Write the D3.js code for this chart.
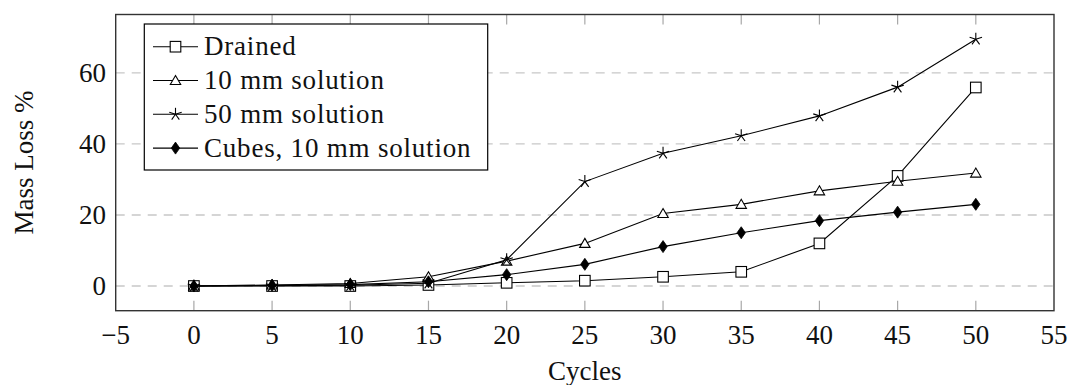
<!DOCTYPE html>
<html>
<head>
<meta charset="utf-8">
<script src="https://cdn.jsdelivr.net/npm/d3@7/dist/d3.min.js"></script>
<style>
  html, body { margin: 0; padding: 0; background: #fff; }
  svg { display: block; }
  text { font-family: "Liberation Serif", "DejaVu Serif", serif; fill: #111; }
</style>
</head>
<body>
<svg id="chart" width="1072" height="385"></svg>
<script>
// Freeze-thaw mass loss measurements
const cycles = [0, 5, 10, 15, 20, 25, 30, 35, 40, 45, 50];
const drained      = [0, 0, 0, 0.3, 0.9, 1.5, 2.6, 4.0, 12.0, 31.0, 55.9];
const solution10mm = [0, 0.3, 0.7, 2.6, 7.0, 12.0, 20.4, 23.0, 26.8, 29.5, 31.8];
const solution50mm = [0, 0.1, 0.2, 0.8, 7.4, 29.4, 37.4, 42.3, 47.9, 56.0, 69.5];
const cubes10mm    = [0, 0.2, 0.4, 1.2, 3.2, 6.1, 11.1, 15.0, 18.4, 20.8, 23.0];

const seriesNames = ["Drained", "10 mm solution", "50 mm solution", "Cubes, 10 mm solution"];
const seriesMarks = ["square", "triangle", "star", "diamond"];
const seriesValues = [drained, solution10mm, solution50mm, cubes10mm];

const xTicks = [-5, 0, 5, 10, 15, 20, 25, 30, 35, 40, 45, 50, 55];
const yTicks = [0, 20, 40, 60];
const xLabel = "Cycles";
const yLabel = "Mass Loss %";

const svg = d3.select("#chart");
const plotLeft = 115.7, plotRight = 1054, plotTop = 14.5, plotBottom = 310.7;

// 10% margin around the data range on the y axis
const yMin = 0, yMax = d3.max(solution50mm);
const yPad = (yMax - yMin) * 0.1;
const x = d3.scaleLinear().domain([-5, 55]).range([plotLeft, plotRight]);
const y = d3.scaleLinear().domain([yMin - yPad, yMax + yPad]).range([plotBottom, plotTop]);

const fontSize = 27;

// horizontal dashed grid
svg.append("g").selectAll("line").data(yTicks).join("line")
  .attr("x1", plotLeft).attr("x2", plotRight)
  .attr("y1", d => y(d)).attr("y2", d => y(d))
  .attr("stroke", "#c8c8c8").attr("stroke-width", 1.3)
  .attr("stroke-dasharray", "9,7");

// tick marks (inside, bottom and top)
const tickLen = 10;
const tg = svg.append("g").attr("stroke", "#a8a8a8").attr("stroke-width", 1.2);
tg.selectAll("line.b").data(xTicks.slice(1, -1)).join("line").attr("class", "b")
  .attr("x1", d => x(d)).attr("x2", d => x(d))
  .attr("y1", plotBottom).attr("y2", plotBottom - tickLen);
tg.selectAll("line.t").data(xTicks.slice(1, -1)).join("line").attr("class", "t")
  .attr("x1", d => x(d)).attr("x2", d => x(d))
  .attr("y1", plotTop).attr("y2", plotTop + tickLen);

// frame
svg.append("rect")
  .attr("x", plotLeft).attr("y", plotTop)
  .attr("width", plotRight - plotLeft).attr("height", plotBottom - plotTop)
  .attr("fill", "none").attr("stroke", "#333").attr("stroke-width", 1.4);

// tick labels
const fmt = d => d < 0 ? "\u2212" + Math.abs(d) : String(d);
svg.append("g").selectAll("text").data(xTicks).join("text")
  .attr("x", d => x(d)).attr("y", 344)
  .attr("text-anchor", "middle").attr("font-size", fontSize)
  .text(fmt);
svg.append("g").selectAll("text").data(yTicks).join("text")
  .attr("x", 106).attr("y", d => y(d) + 9)
  .attr("text-anchor", "end").attr("font-size", fontSize)
  .text(fmt);

// axis titles
svg.append("text")
  .attr("x", (plotLeft + plotRight) / 2).attr("y", 380)
  .attr("text-anchor", "middle").attr("font-size", fontSize)
  .text(xLabel);
svg.append("text")
  .attr("transform", `translate(33,${(plotTop + plotBottom) / 2}) rotate(-90)`)
  .attr("text-anchor", "middle").attr("font-size", fontSize)
  .text(yLabel);

// marker shapes
function drawMark(g, kind, cx, cy) {
  if (kind === "square") {
    g.append("rect").attr("x", cx - 5.3).attr("y", cy - 5.3)
      .attr("width", 10.6).attr("height", 10.6)
      .attr("fill", "#fff").attr("stroke", "#000").attr("stroke-width", 1.1);
  } else if (kind === "triangle") {
    const r = 6;
    const pts = [0, 1, 2].map(i => {
      const a = -Math.PI / 2 + i * 2 * Math.PI / 3;
      return [cx + r * Math.cos(a), cy + 1 + r * Math.sin(a)];
    });
    g.append("polygon").attr("points", pts.map(p => p.join(",")).join(" "))
      .attr("fill", "#fff").attr("stroke", "#000").attr("stroke-width", 1.1);
  } else if (kind === "star") {
    const r = 6.5;
    for (let i = 0; i < 5; i++) {
      const a = -Math.PI / 2 + i * 2 * Math.PI / 5;
      g.append("line").attr("x1", cx).attr("y1", cy)
        .attr("x2", cx + r * Math.cos(a)).attr("y2", cy + r * Math.sin(a))
        .attr("stroke", "#000").attr("stroke-width", 1.1);
    }
  } else if (kind === "diamond") {
    g.append("polygon")
      .attr("points", `${cx},${cy - 6} ${cx + 4.2},${cy} ${cx},${cy + 6} ${cx - 4.2},${cy}`)
      .attr("fill", "#000").attr("stroke", "#000").attr("stroke-width", 0.8);
  }
}

// series lines and markers
const line = d3.line().x(d => x(d[0])).y(d => y(d[1]));
seriesValues.forEach((vals, si) => {
  const pts = cycles.map((c, i) => [c, vals[i]]);
  const g = svg.append("g");
  g.append("path").attr("d", line(pts))
    .attr("fill", "none").attr("stroke", "#000").attr("stroke-width", 1.1);
  pts.forEach(p => drawMark(g, seriesMarks[si], x(p[0]), y(p[1])));
});

// legend
const lg = svg.append("g");
lg.append("rect").attr("x", 144.3).attr("y", 24)
  .attr("width", 343.4).attr("height", 146)
  .attr("fill", "#fff").attr("stroke", "#000").attr("stroke-width", 1.2);
seriesNames.forEach((name, i) => {
  const cy = 46.7 + i * 33.8;
  lg.append("line").attr("x1", 153).attr("x2", 198)
    .attr("y1", cy).attr("y2", cy)
    .attr("stroke", "#000").attr("stroke-width", 1.1);
  drawMark(lg, seriesMarks[i], 175.5, cy);
  lg.append("text").attr("x", 204).attr("y", cy + 8.5)
    .attr("font-size", fontSize).attr("letter-spacing", 0.8).text(name);
});
</script>
</body>
</html>
